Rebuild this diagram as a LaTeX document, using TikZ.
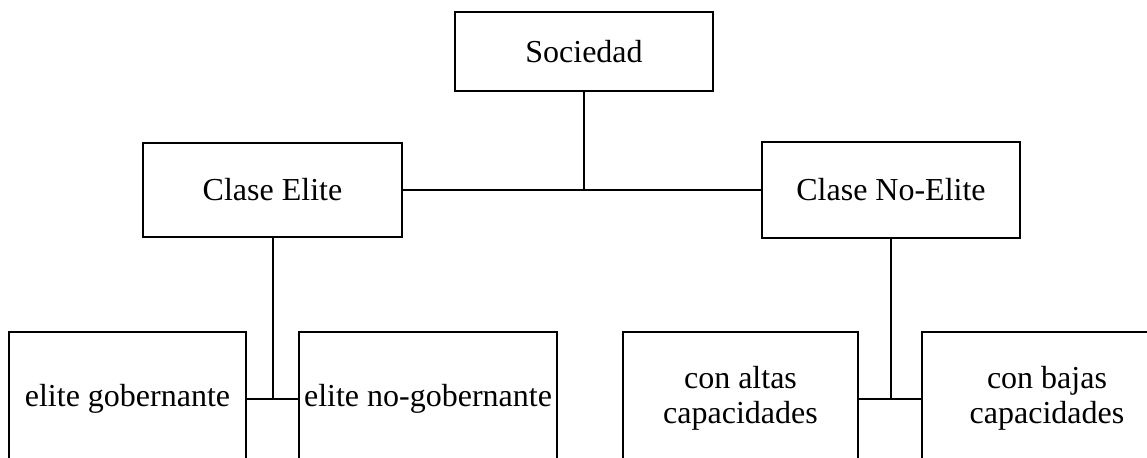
\documentclass[tikz,border=0pt]{standalone}
\usepackage{fontspec}
\setmainfont{Liberation Serif}
\begin{document}
\begin{tikzpicture}[x=0.5pt,y=-0.5pt,
  box/.style={draw,line width=1pt,inner sep=0pt,align=center,font=\fontsize{16}{17.5}\selectfont},
  link/.style={line width=1pt}]
\useasboundingbox (0,0) rectangle (1147,457);
\clip (0,0) rectangle (1147,457);
\node[box,minimum width=129pt,minimum height=39.5pt] (soc) at (584,51.5) {Sociedad};
\node[box,minimum width=129.5pt,minimum height=47pt] (ce) at (272.5,190) {Clase Elite};
\node[box,minimum width=129pt,minimum height=48pt] (cne) at (891,190) {Clase No-Elite};
\node[box,minimum width=118.5pt,minimum height=66.5pt] (eg) at (127.5,398.5) {elite gobernante};
\node[box,minimum width=129pt,minimum height=66.5pt] (eng) at (428,398.5) {elite no-gobernante};
\node[box,minimum width=117.5pt,minimum height=66.5pt] (ca) at (740.5,398.5) {con altas\\capacidades};
\node[box,minimum width=125pt,minimum height=66.5pt] (cb) at (1047,398.5) {con bajas\\capacidades};
\coordinate (j1) at (584,190);
\draw[link] (soc.south) -- (j1);
\draw[link] (ce.east) -- (cne.west);
\draw[link] (ce.south) -- (ce.south |- eg.east);
\draw[link] (eg.east) -- (eng.west);
\draw[link] (cne.south) -- (cne.south |- ca.east);
\draw[link] (ca.east) -- (cb.west);
\end{tikzpicture}
\end{document}
